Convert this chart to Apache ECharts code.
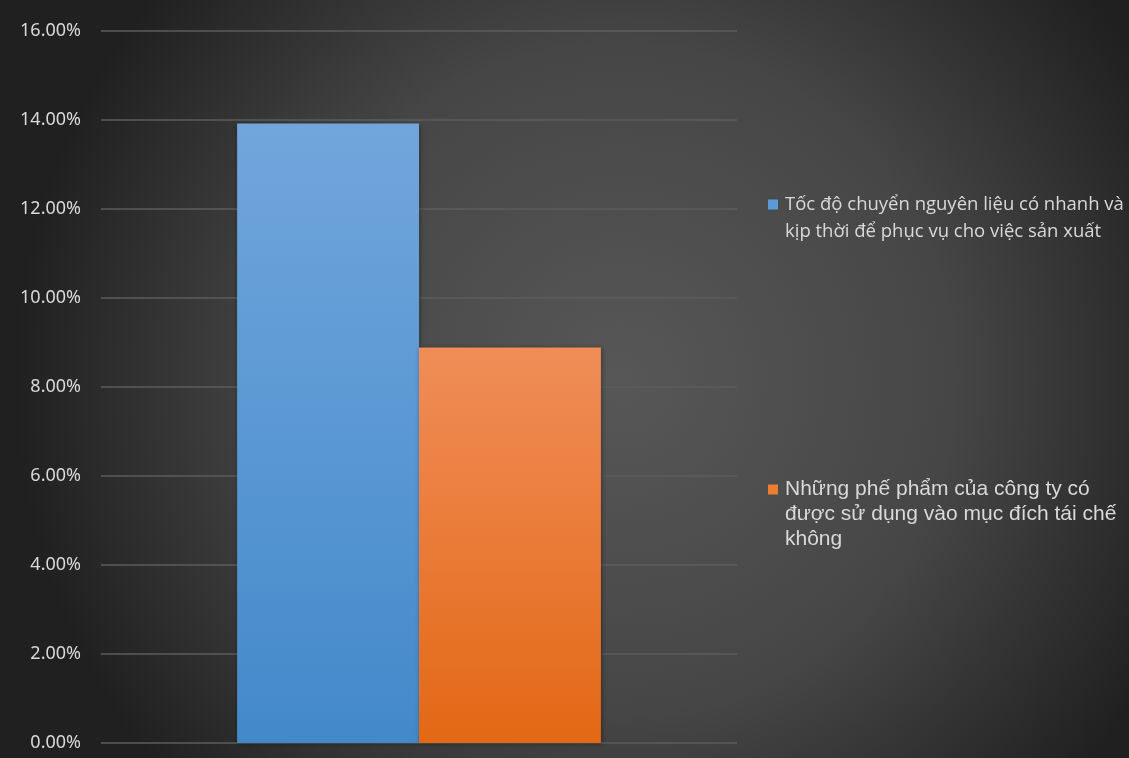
<!DOCTYPE html>
<html>
<head>
<meta charset="utf-8">
<script src="https://cdn.jsdelivr.net/npm/echarts@6/dist/echarts.min.js"></script>
<style>
  html, body { margin: 0; padding: 0; background: #2b2b2b; }
  #chart { width: 1129px; height: 758px; }
</style>
</head>
<body>
<div id="chart"></div>
<script>
// Share of responses per question
const categories = [''];
const seriesNames = [
  'Tốc độ chuyển nguyên liệu có nhanh và kịp thời để phục vụ cho việc sản xuất',
  'Những phế phẩm của công ty có được sử dụng vào mục đích tái chế không'
];
const blueValues = [13.92];
const orangeValues = [8.89];
const yTicks = [0, 2, 4, 6, 8, 10, 12, 14, 16];

const chart = echarts.init(document.getElementById('chart'), null, { renderer: 'canvas' });

function barGradient(top, bottom) {
  return new echarts.graphic.LinearGradient(0, 0, 0, 1, [
    { offset: 0, color: top },
    { offset: 1, color: bottom }
  ]);
}

const seriesColors = ['#5B9BD5', '#ED7D31'];

// Greedy word wrap measured with the actual font
const measureCtx = document.createElement('canvas').getContext('2d');
function wrapText(text, font, maxWidth) {
  measureCtx.font = font;
  const words = text.split(' ');
  const lines = [];
  let line = '';
  for (const w of words) {
    const trial = line ? line + ' ' + w : w;
    if (line && measureCtx.measureText(trial).width > maxWidth) {
      lines.push(line);
      line = w;
    } else {
      line = trial;
    }
  }
  if (line) lines.push(line);
  return lines.join('\n');
}

// Legend entries drawn with the marker beside the first text line
function legendEntry(idx, x, y, family, size, lineH, width) {
  const font = size + 'px ' + family;
  return {
    type: 'group',
    left: x,
    top: y,
    children: [
      {
        type: 'rect',
        shape: { x: 0, y: (lineH - 10) / 2, width: 10, height: 10 },
        style: { fill: seriesColors[idx] }
      },
      {
        type: 'text',
        x: 17,
        y: 0,
        style: {
          text: wrapText(seriesNames[idx], font, width),
          fill: '#d9d9d9',
          font: font,
          lineHeight: lineH
        }
      }
    ]
  };
}

const option = {
  backgroundColor: {
    type: 'radial',
    x: 0.55, y: 0.5, r: 0.8,
    colorStops: [
      { offset: 0, color: '#575757' },
      { offset: 0.55, color: '#464646' },
      { offset: 1, color: '#202020' }
    ]
  },
  animation: false,
  grid: { left: 101, right: 392, top: 31, bottom: 15 },
  xAxis: {
    type: 'category',
    data: categories,
    axisLine: { show: false },
    axisTick: { show: false },
    axisLabel: { show: false }
  },
  yAxis: {
    type: 'value',
    min: yTicks[0],
    max: yTicks[yTicks.length - 1],
    interval: 2,
    axisLine: { show: false },
    axisTick: { show: false },
    axisLabel: {
      color: '#d9d9d9',
      fontFamily: '"Noto Sans", "Open Sans", sans-serif',
      fontSize: 18,
      margin: 20,
      formatter: v => v.toFixed(2) + '%'
    },
    splitLine: { lineStyle: { color: '#5c5c5c', width: 1.5 } }
  },
  series: [
    {
      name: seriesNames[0],
      type: 'bar',
      data: blueValues,
      barGap: '0%',
      barCategoryGap: '42.8%',
      itemStyle: {
        color: barGradient('#71A6DC', '#4389CA'),
        shadowColor: 'rgba(0,0,0,0.35)',
        shadowBlur: 5,
        shadowOffsetX: 1,
        shadowOffsetY: 1
      }
    },
    {
      name: seriesNames[1],
      type: 'bar',
      data: orangeValues,
      barGap: '0%',
      barCategoryGap: '42.8%',
      itemStyle: {
        color: barGradient('#F08D58', '#E36815'),
        shadowColor: 'rgba(0,0,0,0.35)',
        shadowBlur: 5,
        shadowOffsetX: 1,
        shadowOffsetY: 1
      }
    }
  ],
  graphic: [
    legendEntry(0, 768, 191, '"Open Sans", "Noto Sans", sans-serif', 18.5, 27, 345),
    legendEntry(1, 768, 477, '"Liberation Sans", Arial, sans-serif', 21, 25, 342)
  ]
};

chart.setOption(option);
</script>
</body>
</html>
